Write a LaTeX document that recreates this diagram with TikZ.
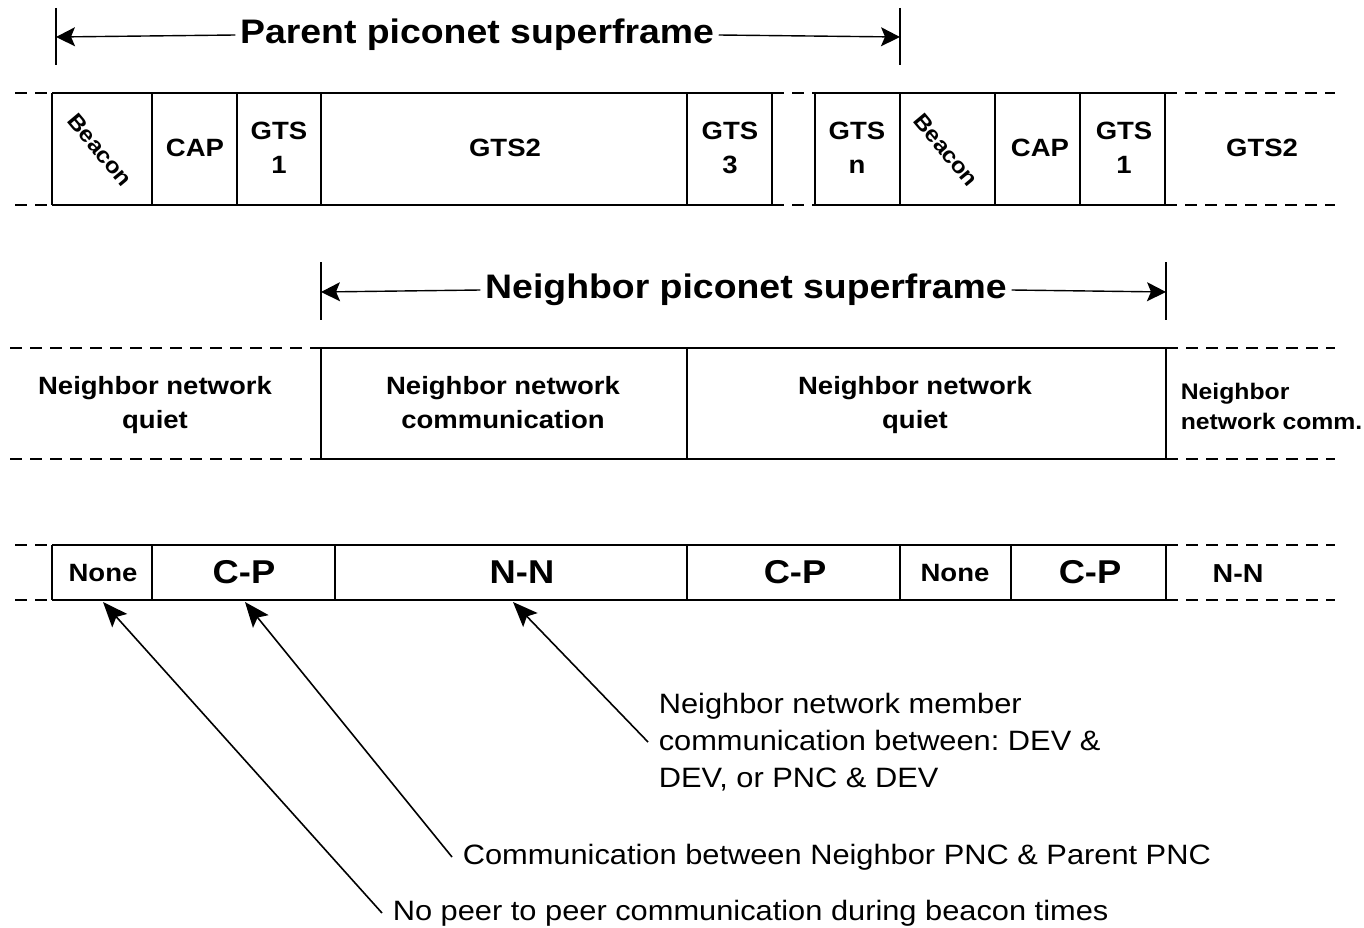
\documentclass[tikz,border=0pt]{standalone}
\usepackage{fontspec}
\setmainfont{Liberation Sans}[FakeStretch=1.1]
\usetikzlibrary{arrows.meta}
\frenchspacing
\tikzset{
  cell/.style={font=\bfseries\fontsize{25}{34}\selectfont,align=center,inner sep=0pt},
  bigcell/.style={font=\bfseries\fontsize{33}{34}\selectfont,inner sep=0pt},
  smallcell/.style={font=\bfseries\fontsize{22.5}{30}\selectfont,inner sep=0pt},
  heading/.style={font=\bfseries\fontsize{34}{36}\selectfont,inner sep=4pt},
  note/.style={font=\fontsize{28}{37}\selectfont,align=left,anchor=west,inner sep=10pt},
  gap/.style={dash pattern=on 12pt off 8pt},
  leftend/.style={line width=1.4pt,arrows={Stealth[length=19pt,width=19pt,inset=4pt]-}},
  rightend/.style={line width=1.4pt,arrows={-Stealth[length=19pt,width=19pt,inset=4pt]}},
  pointer/.style={line width=1.6pt,arrows={-Stealth[length=25pt,width=20pt,inset=5pt]}},
}
\begin{document}
\begin{tikzpicture}[x=1pt,y=-1pt,line width=1.6pt]
\useasboundingbox (0,0) rectangle (1364,928);

% parent superframe
\draw (56,8)--(56,65);
\draw (900,8)--(900,65);
\node[heading] (ptitle) at (477,35) {Parent piconet superframe};
\coordinate (pl) at (56,37);
\coordinate (pr) at (900,37);
\draw[leftend] (pl)--(ptitle.west);
\draw[rightend] (ptitle.east)--(pr);

% row 1
\draw (52,93)--(772,93) (815,93)--(1165,93);
\draw (52,205)--(772,205) (815,205)--(1165,205);
\foreach \x in {52,152,237,321,687,772,815,900,995,1080,1165}{
\draw (\x,93)--(\x,205);
}
\draw[gap] (15,93)--(52,93) (15,205)--(52,205);
\draw[gap] (772,93)--(815,93) (772,205)--(815,205);
\draw[gap] (1165,93)--(1335,93) (1165,205)--(1335,205);
\node[cell,rotate=-50,font=\bfseries\fontsize{22}{26}\selectfont] (bcn1) at (100,150) {Beacon};
\node[cell] (cap1) at (195,148) {CAP};
\node[cell] (gts1a) at (279,148) {GTS\\1};
\node[cell] (gts2a) at (505,148) {GTS2};
\node[cell] (gts3) at (730,148) {GTS\\3};
\node[cell] (gtsn) at (857,148) {GTS\\n};
\node[cell,rotate=-50,font=\bfseries\fontsize{22}{26}\selectfont] (bcn2) at (946,150) {Beacon};
\node[cell] (cap2) at (1040,148) {CAP};
\node[cell] (gts1b) at (1124,148) {GTS\\1};
\node[cell] (gts2b) at (1262,148) {GTS2};

% neighbor superframe
\draw (321,262)--(321,320);
\draw (1166,262)--(1166,320);
\node[heading] (ntitle) at (746,290) {Neighbor piconet superframe};
\coordinate (nl) at (321,292);
\coordinate (nr) at (1166,292);
\draw[leftend] (nl)--(ntitle.west);
\draw[rightend] (ntitle.east)--(nr);

% row 2
\draw (321,348)--(1166,348) (321,459)--(1166,459);
\foreach \x in {321,687,1166}{
\draw (\x,348)--(\x,459);
}
\draw[gap] (10,348)--(321,348) (10,459)--(321,459);
\draw[gap] (1166,348)--(1335,348) (1166,459)--(1335,459);
\node[cell] (quiet1) at (155,405) {Neighbor network\\quiet};
\node[cell] (comm1) at (503,403) {Neighbor network\\communication};
\node[cell] (quiet2) at (915,405) {Neighbor network\\quiet};
\node[smallcell,align=left,anchor=west] (comm2) at (1180,406) {Neighbor\\network comm.};

% row 3
\draw (52,545)--(1166,545) (52,600)--(1166,600);
\foreach \x in {52,152,335,687,900,1011,1166}{
\draw (\x,545)--(\x,600);
}
\draw[gap] (15,545)--(52,545) (15,600)--(52,600);
\draw[gap] (1166,545)--(1335,545) (1166,600)--(1335,600);
\node[smallcell,font=\bfseries\fontsize{25}{30}\selectfont] (none1) at (103,573) {None};
\node[bigcell] (cp1) at (244,572) {C-P};
\node[bigcell] (nn1) at (522,572) {N-N};
\node[bigcell] (cp2) at (795,572) {C-P};
\node[smallcell,font=\bfseries\fontsize{25}{30}\selectfont] (none2) at (955,573) {None};
\node[bigcell] (cp3) at (1090,572) {C-P};
\node[smallcell,font=\bfseries\fontsize{26}{30}\selectfont] (nn2) at (1238,574) {N-N};

% notes
\node[note] (nnnote) at (648,742) {Neighbor network member\\communication between: DEV \&\\DEV, or PNC \& DEV};
\node[note] (cpnote) at (452,857) {Communication between Neighbor PNC \& Parent PNC};
\node[note] (nonenote) at (382,913) {No peer to peer communication during beacon times};
\coordinate (tipnone) at (103,602);
\coordinate (tipcp) at (245,602);
\coordinate (tipnn) at (513,602);
\draw[pointer] (nonenote.west)--(tipnone);
\draw[pointer] (cpnote.west)--(tipcp);
\draw[pointer] (nnnote.west)--(tipnn);
\end{tikzpicture}
\end{document}
